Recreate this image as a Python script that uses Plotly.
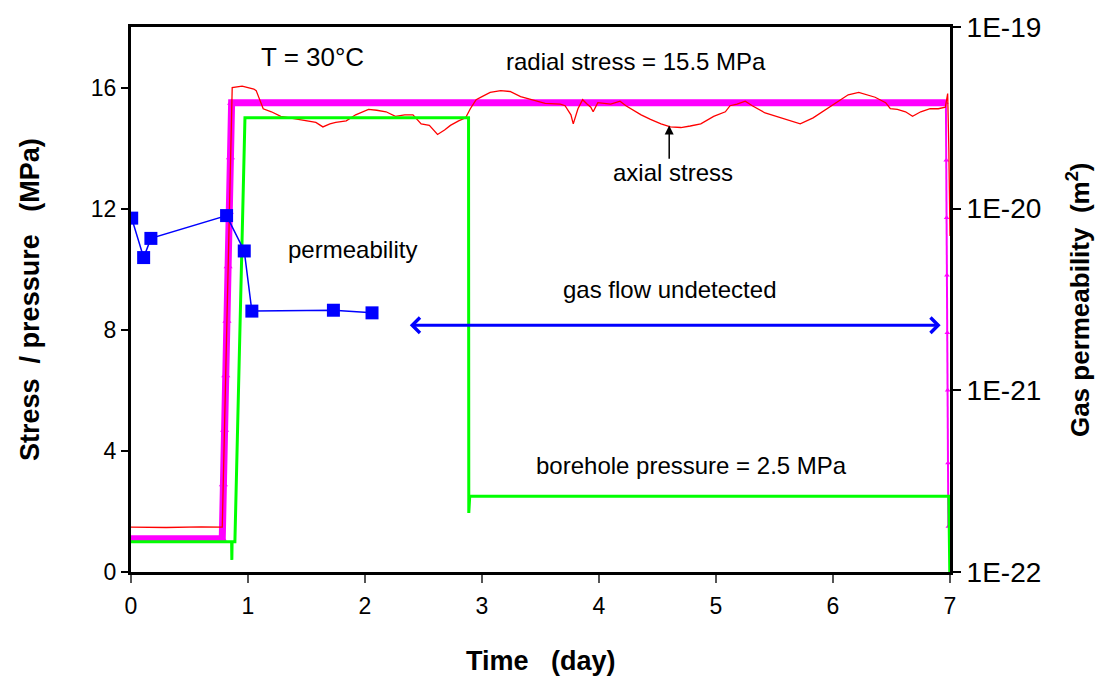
import plotly.graph_objects as go

FONT = "Arial, 'Liberation Sans', sans-serif"

# ---------------- data ----------------
x_ticks = [0, 1, 2, 3, 4, 5, 6, 7]
y_ticks = [0, 4, 8, 12, 16]
perm_tickvals = [1e-22, 1e-21, 1e-20, 1e-19]
perm_ticktext = ["1E-22", "1E-21", "1E-20", "1E-19"]

# radial stress (MPa)
radial_t = [0, 0.78, 0.86, 6.965]
radial_v = [1.1, 1.1, 15.5, 15.5]
radial_rise_t = [0.78, 0.79, 0.80, 0.81, 0.82, 0.83, 0.84, 0.85, 0.86]
radial_rise_v = [1.1, 2.9, 4.7, 6.5, 8.3, 10.1, 11.9, 13.7, 15.5]
radial_drop_t = [6.965, 6.968, 6.971, 6.974, 6.977, 6.980, 6.983, 6.986]
radial_drop_v = [15.5, 13.6, 11.7, 9.8, 7.9, 6.0, 3.6, 1.5]

# axial stress (MPa)
axial_t = [0, 0.3, 0.6, 0.78, 0.865, 0.95, 1.05, 1.07, 1.13, 1.2, 1.28, 1.36, 1.45,
           1.52, 1.58, 1.64, 1.70, 1.75, 1.84, 1.92, 2.03, 2.10, 2.18, 2.26, 2.34,
           2.41, 2.48, 2.55, 2.62, 2.68, 2.73, 2.80, 2.86, 2.90, 2.95, 3.0, 3.07,
           3.16, 3.24, 3.33, 3.42, 3.54, 3.67, 3.71, 3.76, 3.78, 3.82, 3.86, 3.90,
           3.93, 3.95, 3.99, 4.1, 4.18, 4.23, 4.27, 4.36, 4.44, 4.53, 4.61, 4.70,
           4.78, 4.87, 4.98, 5.08, 5.12, 5.18, 5.25, 5.31, 5.42, 5.55, 5.68, 5.72,
           5.83, 5.89, 5.94, 6.0, 6.06, 6.13, 6.22, 6.29, 6.36, 6.45, 6.49, 6.55,
           6.62, 6.68, 6.75, 6.83, 6.90, 6.96, 6.98, 6.99, 7.0]
axial_v = [1.48, 1.47, 1.49, 1.48, 16.0, 16.05, 15.95, 15.9, 15.3, 15.2, 15.05, 15.0, 14.95,
           14.9, 14.85, 14.7, 14.8, 14.85, 14.9, 15.1, 15.28, 15.25, 15.2, 15.05, 15.1,
           15.1, 14.8, 14.75, 14.45, 14.6, 14.75, 14.9, 15.0, 15.3, 15.6, 15.7, 15.84,
           15.9, 15.87, 15.7, 15.6, 15.48, 15.45, 15.4, 15.1, 14.8, 15.3, 15.6, 15.45,
           15.35, 15.2, 15.5, 15.45, 15.55, 15.4, 15.3, 15.1, 14.95, 14.8, 14.7, 14.68,
           14.73, 14.8, 15.05, 15.2, 15.4, 15.45, 15.55, 15.4, 15.16, 15.0, 14.84, 14.8,
           15.0, 15.15, 15.3, 15.45, 15.6, 15.76, 15.84, 15.76, 15.68, 15.5, 15.3, 15.28,
           15.2, 15.05, 15.2, 15.3, 15.3, 15.35, 15.8, 14.0, 11.1]

# borehole pressure (MPa)
bore_t = [0, 0.86, 0.862, 0.864, 0.888, 0.974, 2.885, 2.887, 2.895, 2.90, 6.99, 6.998, 7.0]
bore_v = [1.0, 1.0, 0.4, 1.0, 1.0, 15.0, 15.0, 1.95, 2.5, 2.5, 2.5, 0.0, 0.0]

# gas permeability (m2)
perm_t = [0.006, 0.108, 0.17, 0.817, 0.968, 1.033, 1.73, 2.06]
perm_k = [8.87e-21, 5.38e-21, 6.86e-21, 9.16e-21, 5.85e-21, 2.73e-21, 2.76e-21, 2.67e-21]

# ---------------- figure ----------------
fig = go.Figure()

fig.add_trace(go.Scatter(x=radial_t, y=radial_v, mode="lines",
                         line=dict(color="#FF00FF", width=7), hoverinfo="skip"))
fig.add_trace(go.Scatter(x=radial_rise_t, y=radial_rise_v, mode="lines+markers",
                         line=dict(color="#FF00FF", width=3),
                         marker=dict(symbol="triangle-up", size=8, color="#FF00FF"),
                         hoverinfo="skip"))
fig.add_trace(go.Scatter(x=radial_drop_t, y=radial_drop_v, mode="lines+markers",
                         line=dict(color="#FF00FF", width=2),
                         marker=dict(symbol="triangle-up", size=5, color="#FF00FF"),
                         hoverinfo="skip"))
fig.add_trace(go.Scatter(x=axial_t, y=axial_v, mode="lines",
                         line=dict(color="#FF0000", width=1.3), hoverinfo="skip"))
fig.add_trace(go.Scatter(x=bore_t, y=bore_v, mode="lines",
                         line=dict(color="#00FF00", width=3), hoverinfo="skip"))
fig.add_trace(go.Scatter(x=perm_t, y=perm_k, mode="lines+markers", yaxis="y2",
                         line=dict(color="#0000FF", width=1.5),
                         marker=dict(symbol="square", size=13, color="#0000FF"),
                         hoverinfo="skip"))

txt = dict(family=FONT, size=24, color="black")
ttl = dict(family=FONT, size=27, color="black")
ann = [
    dict(x=1.55, y=17.02, text="T = 30°C", showarrow=False,
         font=dict(family=FONT, size=26, color="black")),
    dict(x=4.32, y=16.85, text="radial stress = 15.5 MPa", showarrow=False, font=txt),
    dict(x=4.63, y=13.2, text="axial stress", showarrow=False, font=txt),
    dict(x=1.89, y=10.64, text="permeability", showarrow=False, font=txt),
    dict(x=4.6, y=9.34, text="gas flow undetected", showarrow=False, font=txt),
    dict(x=4.79, y=3.52, text="borehole pressure = 2.5 MPa", showarrow=False, font=txt),
    # axial stress pointer
    dict(x=4.6, y=14.75, ax=4.6, ay=13.6, axref="x", ayref="y", text="",
         showarrow=True, arrowhead=2, arrowsize=1.2, arrowwidth=1.5, arrowcolor="black"),
    # gas flow undetected double arrow
    dict(x=6.92, y=8.15, ax=2.37, ay=8.15, axref="x", ayref="y", text="",
         showarrow=True, arrowhead=4, startarrowhead=4, arrowside="end+start",
         arrowsize=1.0, startarrowsize=1.0, arrowwidth=3, arrowcolor="#0000FF"),
    # axis titles
    dict(xref="paper", yref="paper", x=-0.124, y=0.5, textangle=-90,
         xanchor="center", yanchor="middle",
         text="<b>Stress\u00a0\u00a0/ pressure\u00a0\u00a0\u00a0(MPa)</b>", showarrow=False,
         font=ttl),
    dict(xref="paper", yref="paper", x=1.157, y=0.5, textangle=-90,
         xanchor="center", yanchor="middle",
         text="<b>Gas permeability\u00a0\u00a0(m<sup>2</sup>)</b>", showarrow=False,
         font=dict(family=FONT, size=26, color="black")),
    dict(xref="paper", yref="paper", x=0.5, y=-0.163,
         xanchor="center", yanchor="middle",
         text="<b>Time\u00a0\u00a0\u00a0(day)</b>", showarrow=False,
         font=ttl),
]
for a in ann:
    a.setdefault("xref", "x")
    a.setdefault("yref", "y")
fig.update_layout(annotations=ann)

fig.update_layout(
    width=1101, height=684,
    margin=dict(l=131, r=151, t=19, b=112),
    paper_bgcolor="white", plot_bgcolor="white",
    showlegend=False,
    font=dict(family=FONT, size=23, color="black"),
    xaxis=dict(range=[0, 7], tickvals=x_ticks, ticks="outside", ticklen=8,
               tickcolor="#555555", tickwidth=1.5, ticklabelstandoff=3,
               showline=True, linecolor="black", linewidth=3, mirror=True,
               showgrid=False, zeroline=False,
               tickfont=dict(family=FONT, size=23, color="black")),
    yaxis=dict(range=[0, 18], tickvals=y_ticks, ticks="outside", ticklen=7,
               tickcolor="black", tickwidth=1.5, ticklabelstandoff=0,
               showline=True, linecolor="black", linewidth=3,
               showgrid=False, zeroline=False,
               tickfont=dict(family=FONT, size=23, color="black")),
    yaxis2=dict(type="log", range=[-22, -19], overlaying="y", side="right",
                tickvals=perm_tickvals, ticktext=perm_ticktext,
                ticks="outside", ticklen=8, tickcolor="black", tickwidth=1.5,
                showline=True, linecolor="black", linewidth=3,
                showgrid=False, zeroline=False,
                tickfont=dict(family=FONT, size=28, color="black")),
)

fig.write_html("out.html", config={"displayModeBar": False},
               post_script="document.body.style.margin='0px';")
